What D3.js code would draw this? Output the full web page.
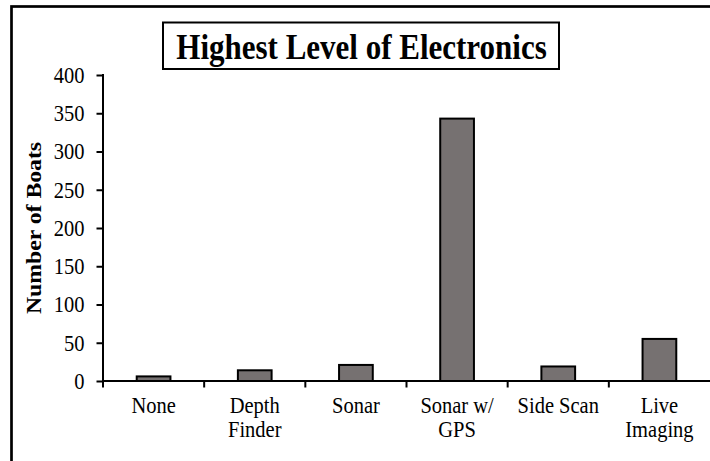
<!DOCTYPE html>
<html>
<head>
<meta charset="utf-8">
<script src="https://cdn.jsdelivr.net/npm/d3@7"></script>
<style>
  body { margin: 0; background: #fff; }
  text { font-family: "Liberation Serif", "Times New Roman", serif; fill: #000; }
</style>
</head>
<body>
<div id="main"></div>
<script>
// chart data
let categories = ["None", "Depth Finder", "Sonar", "Sonar w/ GPS", "Side Scan", "Live Imaging"];
let labelLines = [["None"], ["Depth", "Finder"], ["Sonar"], ["Sonar w/", "GPS"], ["Side Scan"], ["Live", "Imaging"]];
let boats = [6, 14, 21, 343, 19, 55];
let yTicks = [0, 50, 100, 150, 200, 250, 300, 350, 400];

let width = 710;
let height = 461;
// the source picture is slightly stretched vertically, so text is too
let stretch = 1.13;

let svg = d3.select('#main')
  .append('svg')
  .attr('width', width)
  .attr('height', height);

// outer chart frame (runs off the right and bottom edge)
svg.append('rect')
  .attr('x', 11.5)
  .attr('y', 6.5)
  .attr('width', 720)
  .attr('height', 480)
  .attr('fill', 'none')
  .attr('stroke', '#000')
  .attr('stroke-width', 2.7);

let x = d3.scaleBand()
  .domain(categories)
  .range([103, 710])
  .padding(0);

let y = d3.scaleLinear()
  .domain([0, 400])
  .range([381, 75]);

// bars take the middle third of each category
let barW = x.bandwidth() / 3;
svg.append('g')
  .selectAll('rect')
  .data(categories)
  .enter().append('rect')
  .attr('x', function(d) { return x(d) + (x.bandwidth() - barW) / 2; })
  .attr('y', function(d, i) { return y(boats[i]); })
  .attr('width', barW)
  .attr('height', function(d, i) { return y(0) - y(boats[i]); })
  .attr('fill', '#767171')
  .attr('stroke', '#000')
  .attr('stroke-width', 2);

// y axis
let yAxis = svg.append('g')
  .attr('transform', 'translate(103,0)')
  .call(d3.axisLeft(y).tickValues(yTicks).tickSize(6.5).tickPadding(12));
yAxis.selectAll('line').attr('stroke', '#000').attr('stroke-width', 2);
yAxis.select('.domain').remove();
yAxis.append('line')
  .attr('y1', y(400) - 1).attr('y2', y(0) + 1)
  .attr('stroke', '#000').attr('stroke-width', 2);
yAxis.selectAll('text')
  .style('font-family', '"Liberation Serif", serif')
  .style('font-size', '20.5px')
  .attr('fill', '#000')
  .attr('transform', 'scale(1,' + stretch + ')');

// x axis: ticks at category boundaries
let xAxis = svg.append('g');
xAxis.append('line')
  .attr('x1', 102).attr('x2', 710)
  .attr('y1', y(0)).attr('y2', y(0))
  .attr('stroke', '#000').attr('stroke-width', 2);
xAxis.selectAll('.xtick')
  .data(categories)
  .enter().append('line')
  .attr('class', 'xtick')
  .attr('x1', function(d) { return x(d); })
  .attr('x2', function(d) { return x(d); })
  .attr('y1', y(0))
  .attr('y2', y(0) + 6.5)
  .attr('stroke', '#000').attr('stroke-width', 2);

xAxis.selectAll('.xlabel')
  .data(categories)
  .enter().append('text')
  .attr('class', 'xlabel')
  .attr('text-anchor', 'middle')
  .style('font-size', '20.5px')
  .attr('transform', function(d) {
    return 'translate(' + (x(d) + x.bandwidth() / 2) + ',413) scale(1,' + stretch + ')';
  })
  .each(function(d, i) {
    let t = d3.select(this);
    labelLines[i].forEach(function(line, j) {
      t.append('tspan')
        .attr('x', 0)
        .attr('dy', j === 0 ? 0 : 23.7 / stretch)
        .text(line);
    });
  });

// y axis title
svg.append('text')
  .attr('transform', 'translate(41,' + ((y(0) + y(400)) / 2) + ') scale(1,' + stretch + ') rotate(-90)')
  .attr('text-anchor', 'middle')
  .style('font-size', '21px')
  .style('font-weight', 'bold')
  .text('Number of Boats');

// boxed title
svg.append('rect')
  .attr('x', 163)
  .attr('y', 22.5)
  .attr('width', 396)
  .attr('height', 46.5)
  .attr('fill', '#fff')
  .attr('stroke', '#000')
  .attr('stroke-width', 2);

svg.append('text')
  .attr('transform', 'translate(361.5,59.3) scale(1,1.16)')
  .attr('text-anchor', 'middle')
  .style('font-size', '31px')
  .style('font-weight', 'bold')
  .text('Highest Level of Electronics');
</script>
</body>
</html>
